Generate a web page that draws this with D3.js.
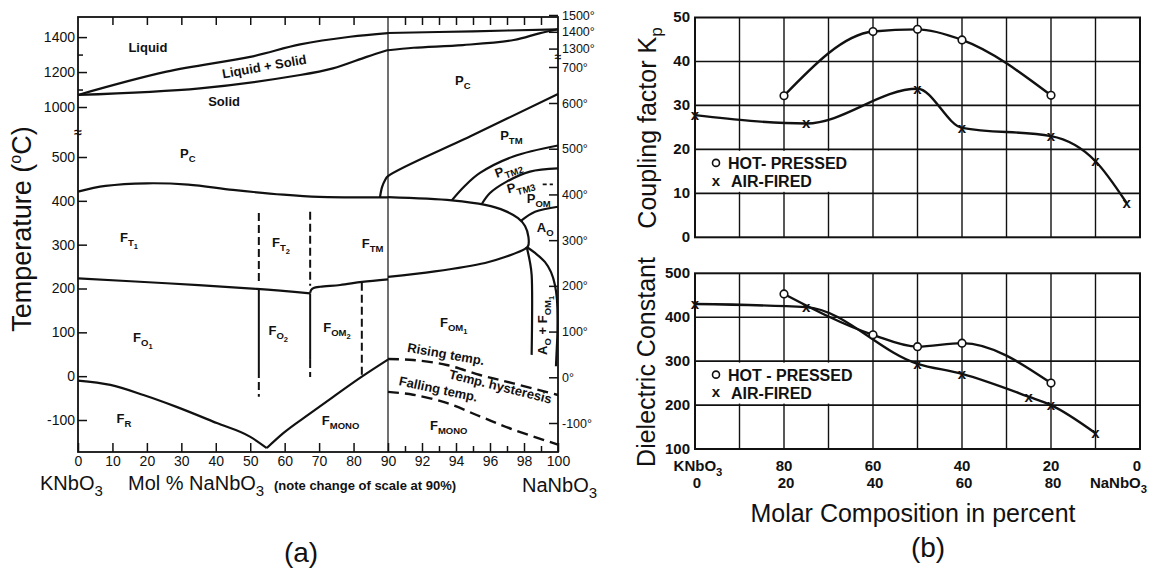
<!DOCTYPE html>
<html>
<head>
<meta charset="utf-8">
<script src="https://cdn.jsdelivr.net/npm/d3@7"></script>
<style>
  body { margin: 0; background: #fff; }
  svg { font-family: "Liberation Sans", Arial, sans-serif; }
  text { fill: #111; }
</style>
</head>
<body>
<script>
// ---------- (a) phase diagram, points are [mol % NaNbO3, temperature in C]
// 0-90 % part, read against the left temperature axis
const liquidusL = [[0, 1069], [25.7, 1202], [50, 1287], [64.5, 1358], [79, 1402], [90, 1423]];
const solidusL = [[0, 1069], [35.4, 1107], [64.5, 1183], [74, 1221], [83.8, 1287], [90, 1326]];
const curieL = [[0, 421], [8, 434], [20, 440], [32, 437], [45, 425], [59.6, 414], [70, 409], [90, 408]];
const ftfoL = [[0, 223], [25.7, 212], [51.9, 199], [67.4, 189]];
const ftmLowL = [[67.4, 190], [67.7, 197], [68.4, 201], [70.3, 204], [76.1, 208], [82.5, 215], [90, 221]];
const vLeftArm = [[0, -10], [9.4, -20], [19, -43], [28.6, -70], [40.3, -107], [49.9, -138], [54.8, -164]];
const vRightArm = [[54.8, -164], [59.6, -130], [67.4, -85], [74.1, -47], [82.4, -1], [90, 38]];
// vertical boundaries: [mol %, from C, to C]
const solidSegs = [[52.5, 199, 14], [67.4, 189, 37]];
const dashSegs = [[52.5, 372, 208], [52.5, 14, -47], [67.4, 375, 206], [67.4, 37, -2], [82.4, 213, 0]];

// 90-100 % part, read against the right temperature axis
const liquidusR = [[90, 1393], [95, 1403], [100, 1415]];
const solidusR = [[90, 1290], [91.5, 1305], [94.4, 1321], [97.4, 1351], [98.9, 1391], [100, 1415]];
const lensR = [[90, 394], [93.76, 387], [95.71, 377], [96.88, 364], [97.65, 348], [98.06, 331], [98.26, 307],
  [98.24, 287], [98.06, 281], [96.88, 263], [95.71, 250], [92.76, 231.5], [90, 219.5]];
const ptmR = [[87.68, 394], [88.27, 416], [89.13, 431], [90, 440], [95, 530], [100, 625]];
const ptm2R = [[93.75, 387], [94.53, 419], [95.41, 447], [97.37, 483], [100, 507]];
const ptm3R = [[95.5, 378], [96, 403], [96.98, 428], [98.35, 450], [100, 457]];
const pomR = [[97.82, 342], [98.65, 362], [100, 373]];
const aoLeftR = [[98.16, 285], [98.35, 252], [98.45, 224], [98.45, 49]];
const aoRightR = [[98.16, 285], [98.65, 272], [99.24, 252], [99.59, 230], [99.82, 202], [99.94, 169],
  [99.97, 104], [99.91, 49], [99.88, 24]];
const risingR = [[90, 40], [91.47, 37.8], [93.45, 26.9], [95.41, 5], [97.37, -13.3], [100, -38.7]];
const fallingR = [[90, -31.9], [91.47, -38.1], [93.45, -56.2], [95.41, -85.5], [97.37, -114.4], [100, -147.2]];
const ptm3Dash = [[99.1, 422], [99.7, 422]];

const leftTicks = [1400, 1200, 1000, 500, 400, 300, 200, 100, 0, -100];
const leftMinor = [1300, 1100];
const rightTicks = [1500, 1400, 1300, 700, 600, 500, 400, 300, 200, 100, 0, -100];
const molTicks = [0, 10, 20, 30, 40, 50, 60, 70, 80, 90, 92, 94, 96, 98, 100];
const molMinor = [91, 93, 95, 97, 99];
const topTicks = [10, 20, 30, 40, 50, 60, 70, 80, 91, 92, 93, 94, 95, 96, 97, 98, 99];

// phase names: pieces of [text, level], level 0 normal, 1 subscript, 2 sub-subscript
const labelsL = [
  { p: [['Liquid', 0]], m: 20.3, t: 1315, a: 'middle' },
  { p: [['Liquid + Solid', 0]], m: 54.3, t: 1206, a: 'middle', r: -10 },
  { p: [['Solid', 0]], m: 42.4, t: 1006, a: 'middle' },
  { p: [['P', 0], ['C', 1]], m: 29.6, t: 498 },
  { p: [['F', 0], ['T', 1], ['1', 2]], m: 12.2, t: 306 },
  { p: [['F', 0], ['T', 1], ['2', 2]], m: 56.3, t: 295 },
  { p: [['F', 0], ['TM', 1]], m: 82.4, t: 292 },
  { p: [['F', 0], ['O', 1], ['1', 2]], m: 16, t: 79 },
  { p: [['F', 0], ['O', 1], ['2', 2]], m: 55.3, t: 94 },
  { p: [['F', 0], ['OM', 1], ['2', 2]], m: 71.2, t: 101 },
  { p: [['F', 0], ['R', 1]], m: 11.2, t: -107 },
  { p: [['F', 0], ['MONO', 1]], m: 70.8, t: -111 }
];
const labelsR = [
  { p: [['P', 0], ['C', 1]], m: 93.94, t: 650 },
  { p: [['P', 0], ['TM', 1]], m: 96.6, t: 519 },
  { p: [['P', 0], ['TM2', 1]], m: 96.4, t: 436, r: -20 },
  { p: [['P', 0], ['TM3', 1]], m: 97.08, t: 402, r: -15 },
  { p: [['P', 0], ['OM', 1]], m: 98.16, t: 381 },
  { p: [['A', 0], ['O', 1]], m: 98.75, t: 318 },
  { p: [['A', 0], ['O', 1], [' + F', 0], ['OM', 1], ['1', 2]], m: 99.35, t: 49, r: -90 },
  { p: [['F', 0], ['OM', 1], ['1', 2]], m: 93.06, t: 111 },
  { p: [['Rising temp.', 0]], m: 91.1, t: 56, r: 10 },
  { p: [['Temp. hysteresis', 0]], m: 93.55, t: -2, r: 14 },
  { p: [['Falling temp.', 0]], m: 90.6, t: -17, r: 12 },
  { p: [['F', 0], ['MONO', 1]], m: 92.47, t: -115 }
];

// ---------- (b) properties vs composition, points are [mol % NaNbO3, value]
const molPct = [0, 10, 20, 30, 40, 50, 60, 70, 80, 90, 100];
const kpTicks = [0, 10, 20, 30, 40, 50];
const kpHot = [[20, 32.2], [40, 46.8], [50, 47.3], [60, 44.9], [80, 32.3]];
const kpAir = [[0, 27.8], [25, 25.9], [50, 33.8], [60, 24.9], [80, 23.0], [90, 17.3], [97, 7.8]];
const epsTicks = [100, 200, 300, 400, 500];
const epsHot = [[20, 453], [40, 360], [50, 333], [60, 341], [80, 250]];
const epsAir = [[0, 430], [25, 423], [50, 294], [60, 271], [75, 219], [80, 200], [90, 136]];
const rowPct = [0, 20, 40, 60, 80, 100];
const topRow = ['KNbO3', '80', '60', '40', '20', '0'];
const bottomRow = ['0', '20', '40', '60', '80', 'NaNbO3'];

const svg = d3.select('body').append('svg')
  .attr('width', 1150)
  .attr('height', 573);

// ================= panel (a)
const xA = d3.scaleLinear().domain([0, 90, 100]).range([78, 388, 558]);
const yL = d3.scaleLinear().domain([-173, 500, 1000, 1515]).range([452, 157, 107, 17]);
const yR = d3.scaleLinear().domain([-100, 600, 700, 1250, 1500]).range([423, 103, 67, 57, 15]);

const lineL = d3.line().x(d => xA(d[0])).y(d => yL(d[1])).curve(d3.curveCatmullRom);
const lineR = d3.line().x(d => xA(d[0])).y(d => yR(d[1])).curve(d3.curveCatmullRom);
const armL = d3.line().x(d => xA(d[0])).y(d => yL(d[1])).curve(d3.curveMonotoneX);

const ga = svg.append('g');

// thin break line at 90 %
ga.append('line')
  .attr('x1', xA(90)).attr('x2', xA(90))
  .attr('y1', yL(-173)).attr('y2', yL(1515))
  .attr('stroke', '#111').attr('stroke-width', 1.2);

const solidL = [liquidusL, solidusL, curieL, ftfoL, ftmLowL];
ga.selectAll('.bl').data(solidL).join('path')
  .attr('d', lineL)
  .attr('fill', 'none').attr('stroke', '#111').attr('stroke-width', 2.2);

ga.selectAll('.arm').data([vLeftArm, vRightArm]).join('path')
  .attr('d', armL)
  .attr('fill', 'none').attr('stroke', '#111').attr('stroke-width', 2.2);

const solidR = [liquidusR, solidusR, lensR, ptmR, ptm2R, ptm3R, pomR, aoLeftR, aoRightR];
ga.selectAll('.br').data(solidR).join('path')
  .attr('d', lineR)
  .attr('fill', 'none').attr('stroke', '#111').attr('stroke-width', 2.2);

ga.selectAll('.dr').data([risingR, fallingR]).join('path')
  .attr('d', lineR)
  .attr('fill', 'none').attr('stroke', '#111').attr('stroke-width', 2.4)
  .attr('stroke-dasharray', '11,6');

ga.append('path').datum(ptm3Dash)
  .attr('d', lineR)
  .attr('fill', 'none').attr('stroke', '#111').attr('stroke-width', 1.6)
  .attr('stroke-dasharray', '4,3');

ga.selectAll('.vs').data(solidSegs).join('line')
  .attr('x1', d => xA(d[0])).attr('x2', d => xA(d[0]))
  .attr('y1', d => yL(d[1])).attr('y2', d => yL(d[2]))
  .attr('stroke', '#111').attr('stroke-width', 2);

ga.selectAll('.vd').data(dashSegs).join('line')
  .attr('x1', d => xA(d[0])).attr('x2', d => xA(d[0]))
  .attr('y1', d => yL(d[1])).attr('y2', d => yL(d[2]))
  .attr('stroke', '#111').attr('stroke-width', 2)
  .attr('stroke-dasharray', '8,4');

// frame
ga.append('rect')
  .attr('x', xA(0)).attr('y', yL(1515))
  .attr('width', xA(100) - xA(0)).attr('height', yL(-173) - yL(1515))
  .attr('fill', 'none').attr('stroke', '#111').attr('stroke-width', 1.8);

function styleAxis(sel, size) {
  sel.select('.domain').remove();
  sel.selectAll('line').attr('stroke', '#111').attr('stroke-width', 1.5);
  sel.selectAll('text').attr('font-size', size).attr('fill', '#111');
}

ga.append('g').attr('transform', `translate(${xA(0)},0)`)
  .call(d3.axisLeft(yL).tickValues(leftTicks).tickSize(-9).tickPadding(3).tickFormat(d => d))
  .call(styleAxis, 14);
ga.append('g').attr('transform', `translate(${xA(0)},0)`)
  .call(d3.axisLeft(yL).tickValues(leftMinor).tickSize(-5).tickFormat(''))
  .call(styleAxis, 14);
ga.append('g').attr('transform', `translate(${xA(100)},0)`)
  .call(d3.axisRight(yR).tickValues(rightTicks).tickSize(-9).tickPadding(4).tickFormat(d => d + '°'))
  .call(styleAxis, 12.5);
ga.append('g').attr('transform', `translate(0,${yL(-173)})`)
  .call(d3.axisBottom(xA).tickValues(molTicks).tickSize(-9).tickPadding(4))
  .call(styleAxis, 14);
ga.append('g').attr('transform', `translate(0,${yL(-173)})`)
  .call(d3.axisBottom(xA).tickValues(molMinor).tickSize(-6).tickFormat(''))
  .call(styleAxis, 14);
ga.append('g').attr('transform', `translate(0,${yL(1515)})`)
  .call(d3.axisTop(xA).tickValues(topTicks).tickSize(-8).tickFormat(''))
  .call(styleAxis, 14);

// scale break marks
ga.append('text').attr('x', xA(0)).attr('y', yL(750)).attr('dy', '0.35em')
  .attr('text-anchor', 'middle').attr('font-size', 14).attr('font-weight', 'bold').text('≈');
ga.append('text').attr('x', xA(100)).attr('y', yR(1250)).attr('dy', '0.35em')
  .attr('text-anchor', 'middle').attr('font-size', 12).attr('font-weight', 'bold').text('≈');

// phase names
const subSize = [13, 9.5, 7.5];
const subOff = [0, 4, 7];
function phaseText(g, list, yS) {
  list.forEach(l => {
    const t = g.append('text')
      .attr('transform', `translate(${xA(l.m)},${yS(l.t)}) rotate(${l.r || 0})`)
      .attr('text-anchor', l.a || 'start')
      .attr('font-weight', 'bold');
    let lev = 0;
    l.p.forEach(([s, k]) => {
      t.append('tspan').attr('dy', subOff[k] - subOff[lev])
        .attr('font-size', subSize[k]).text(s);
      lev = k;
    });
  });
}
phaseText(ga, labelsL, yL);
phaseText(ga, labelsR, yR);

// chemical formula: a digit right after a letter becomes a subscript
function chem(t, str, size) {
  const m = str.match(/^(.*[A-Za-z])(\d)$/);
  if (!m) { t.text(str); return t; }
  t.append('tspan').text(m[1]);
  t.append('tspan').attr('dy', size * 0.3).attr('font-size', size * 0.75).text(m[2]);
  return t;
}

const ytl = ga.append('text')
  .attr('transform', 'translate(31,229) rotate(-90)')
  .attr('text-anchor', 'middle').attr('font-size', 27);
ytl.append('tspan').text('Temperature (');
ytl.append('tspan').attr('font-size', 16).attr('dy', -10).text('o');
ytl.append('tspan').attr('dy', 10).text('C)');

chem(ga.append('text').attr('x', 40).attr('y', 490).attr('font-size', 20), 'KNbO3', 20);
chem(ga.append('text').attr('x', 128).attr('y', 490).attr('font-size', 20), 'Mol % NaNbO3', 20);
ga.append('text').attr('x', 274).attr('y', 490).attr('font-size', 13).attr('font-weight', 'bold')
  .text('(note change of scale at 90%)');
chem(ga.append('text').attr('x', 522).attr('y', 492).attr('font-size', 20), 'NaNbO3', 20);
ga.append('text').attr('x', 301).attr('y', 562).attr('text-anchor', 'middle')
  .attr('font-size', 28).text('(a)');

// ================= panel (b)
const xB = d3.scaleLinear().domain([0, 100]).range([695, 1140]);
const yKp = d3.scaleLinear().domain([0, 50]).range([237.3, 17.5]);
const yEps = d3.scaleLinear().domain([100, 500]).range([449, 273.3]);
const legendNames = [['HOT- PRESSED', 'AIR-FIRED'], ['HOT - PRESSED', 'AIR-FIRED']];

function drawB(yS, ticks, hot, air, names) {
  const g = svg.append('g');
  const [y0, y1] = yS.range();
  g.selectAll('.vg').data(molPct.slice(1, -1)).join('line')
    .attr('x1', d => xB(d)).attr('x2', d => xB(d))
    .attr('y1', y0).attr('y2', y1)
    .attr('stroke', '#111').attr('stroke-width', 1.4);
  g.selectAll('.hg').data(ticks.slice(1, -1)).join('line')
    .attr('x1', xB(0)).attr('x2', xB(100))
    .attr('y1', d => yS(d)).attr('y2', d => yS(d))
    .attr('stroke', '#111').attr('stroke-width', 1.6);

  // legend box hides the grid
  const top = yS(ticks[2]) + 1.5;
  g.append('rect')
    .attr('x', xB(0) + 1.5).attr('y', top)
    .attr('width', xB(35) - xB(0)).attr('height', yS(ticks[1]) - yS(ticks[2]) - 3)
    .attr('fill', '#fff');

  const line = d3.line().x(d => xB(d[0])).y(d => yS(d[1])).curve(d3.curveMonotoneX);
  g.selectAll('.cv').data([hot, air]).join('path')
    .attr('d', line)
    .attr('fill', 'none').attr('stroke', '#111').attr('stroke-width', 2.4);

  g.selectAll('.hp').data(hot).join('circle')
    .attr('cx', d => xB(d[0])).attr('cy', d => yS(d[1])).attr('r', 3.8)
    .attr('fill', '#fff').attr('stroke', '#111').attr('stroke-width', 1.6);
  g.selectAll('.af').data(air).join('text')
    .attr('x', d => xB(d[0])).attr('y', d => yS(d[1])).attr('dy', '0.32em')
    .attr('text-anchor', 'middle').attr('font-size', 15).attr('font-weight', 'bold')
    .text('x');

  // legend
  g.append('circle').attr('cx', 716).attr('cy', top + 12).attr('r', 3.5)
    .attr('fill', '#fff').attr('stroke', '#111').attr('stroke-width', 1.6);
  g.append('text').attr('x', 716).attr('y', top + 30).attr('dy', '0.32em')
    .attr('text-anchor', 'middle').attr('font-size', 15).attr('font-weight', 'bold').text('x');
  g.append('text').attr('x', 728).attr('y', top + 18)
    .attr('font-size', 16).attr('font-weight', 'bold').text(names[0]);
  g.append('text').attr('x', 731).attr('y', top + 36)
    .attr('font-size', 16).attr('font-weight', 'bold').text(names[1]);

  g.append('rect')
    .attr('x', xB(0)).attr('y', y1)
    .attr('width', xB(100) - xB(0)).attr('height', y0 - y1)
    .attr('fill', 'none').attr('stroke', '#111').attr('stroke-width', 2);

  g.selectAll('.yl').data(ticks).join('text')
    .attr('x', xB(0) - 5).attr('y', d => yS(d)).attr('dy', '0.3em')
    .attr('text-anchor', 'end').attr('font-size', 15).attr('font-weight', 'bold')
    .text(d => d);
  return g;
}

drawB(yKp, kpTicks, kpHot, kpAir, legendNames[0]);
drawB(yEps, epsTicks, epsHot, epsAir, legendNames[1]);

const gb = svg.append('g');
rowPct.forEach((p, i) => {
  const xt = i === 0 ? xB(p) + 3 : xB(p) - (i === 5 ? 3 : 0);
  chem(gb.append('text').attr('x', xt).attr('y', 471).attr('text-anchor', 'middle')
    .attr('font-size', 15).attr('font-weight', 'bold'), topRow[i], 15);
  const xb = i === 5 ? xB(p) + 7 : xB(p) + 2;
  chem(gb.append('text').attr('x', xb).attr('y', 488).attr('text-anchor', i === 5 ? 'end' : 'middle')
    .attr('font-size', 15).attr('font-weight', 'bold'), bottomRow[i], 15);
});

const kt = gb.append('text')
  .attr('transform', 'translate(656,128) rotate(-90)')
  .attr('text-anchor', 'middle').attr('font-size', 25).attr('fill', '#1a1a1a');
kt.append('tspan').text('Coupling factor K');
kt.append('tspan').attr('dy', 6).attr('font-size', 17).text('p');
gb.append('text')
  .attr('transform', 'translate(655,362) rotate(-90)')
  .attr('text-anchor', 'middle').attr('font-size', 25).text('Dielectric Constant');
gb.append('text').attr('x', 913).attr('y', 522).attr('text-anchor', 'middle')
  .attr('font-size', 25).text('Molar Composition in percent');
gb.append('text').attr('x', 928).attr('y', 557).attr('text-anchor', 'middle')
  .attr('font-size', 28).text('(b)');
</script>
</body>
</html>
